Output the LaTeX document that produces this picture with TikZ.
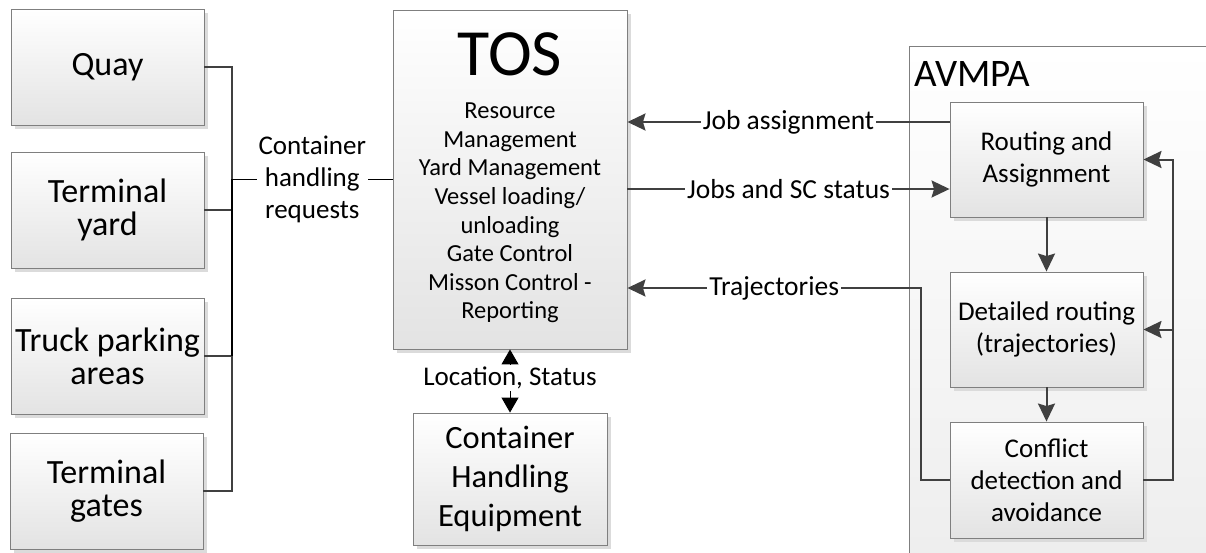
\documentclass[tikz,border=0pt]{standalone}
\usepackage{fontspec}
\setmainfont{Carlito}
\usetikzlibrary{arrows.meta,shadows}
\definecolor{linegray}{HTML}{404040}
\definecolor{boxborder}{HTML}{7F7F7F}
\begin{document}
\begin{tikzpicture}[x=1pt,y=-1pt,
  box/.style={draw=boxborder, line width=0.9pt, top color=white, bottom color=black!11,
    drop shadow={shadow xshift=4pt, shadow yshift=-4pt, fill=black!14, opacity=1},
    align=center, inner sep=0pt, text=black},
  leftbox/.style={box, minimum width=193pt, minimum height=116pt, font=\fontsize{34}{33}\selectfont},
  rightbox/.style={box, minimum width=193pt, minimum height=115pt, font=\fontsize{27}{32}\selectfont},
  lbl/.style={fill=white, inner xsep=2pt, inner ysep=1pt, font=\fontsize{27.5}{32}\selectfont, align=center, text=black},
  arr/.style={draw=linegray, line width=2pt, -{Stealth[length=18pt,width=17pt,inset=2.5pt]}},
  thinline/.style={draw=linegray, line width=1.1pt},
  reqline/.style={draw=black, line width=1.6pt},
  locarr/.style={draw=black, line width=1pt, {Triangle[length=15pt,width=17pt]}-{Triangle[length=15pt,width=17pt]}},
]
\useasboundingbox (0,0) rectangle (1206,552);
\begin{scope}
  \clip (0,0) rectangle (1206,552);
  \node[draw=boxborder, line width=0.9pt, top color=white, bottom color=black!7,
        minimum width=330pt, minimum height=530pt, anchor=north west, inner sep=0pt] (avmpa) at (909,46) {};
\end{scope}
\node[anchor=base west, font=\fontsize{39}{39}\selectfont, inner sep=0pt] (avmpatitle) at (914,86) {AVMPA};

% left boxes
\node[leftbox] (quay) at (107.5,67) {Quay};
\node[leftbox] (yard) at (107.5,210) {Terminal\\yard};
\node[leftbox] (truck) at (107.5,356) {Truck parking\\areas};
\node[leftbox] (gates) at (106.5,491) {Terminal\\gates};

% TOS
\node[box, minimum width=234pt, minimum height=339pt] (tos) at (510,179.5) {};
\node[anchor=base, font=\fontsize{66}{66}\selectfont, inner sep=0pt] (tostitle) at (510,75) {TOS};
\node[font=\fontsize{24.5}{28.6}\selectfont, align=center, inner sep=0pt] (tosbody) at (510,213)
  {Resource\\Management\\Yard Management\\Vessel loading/\\unloading\\Gate Control\\Misson Control -\\Reporting};

% container handling equipment
\node[box, minimum width=194pt, minimum height=132pt, font=\fontsize{32.5}{39}\selectfont] (che) at (510,479)
  {Container\\Handling\\Equipment};

% AVMPA inner boxes
\node[rightbox] (routing) at (1046.5,159.5) {Routing and\\Assignment};
\node[rightbox] (detailed) at (1046.5,329.5) {Detailed routing\\(trajectories)};
\node[rightbox, minimum height=116pt] (conflict) at (1046.5,480) {Conflict\\detection and\\avoidance};

% left bus
\coordinate (bus) at (232,0);
\draw[thinline] (quay.east) -| (bus |- gates.east) -- (gates.east);
\draw[thinline] (yard.east) -- (yard.east -| bus);
\draw[thinline] (truck.east) -- (truck.east -| bus);
\draw[reqline] (tos.west) -- node[lbl, font=\fontsize{27}{32}\selectfont]{Container\\handling\\requests} (tos.west -| bus) -- (truck.east -| bus);

% TOS <-> AVMPA
\coordinate (ja) at ([yshift=37.5pt]routing.west);
\draw[arr] (ja) -- node[lbl]{Job assignment} (ja -| tos.east);
\coordinate (js) at ([yshift=-29.5pt]routing.west);
\draw[arr] (js -| tos.east) -- node[lbl]{Jobs and SC status} (js);
\coordinate (tj) at (921,288);
\draw[arr] (conflict.west) -| (tj) -- node[lbl]{Trajectories} (tj -| tos.east);

% inside AVMPA
\draw[arr] (routing.south) -- (detailed.north);
\draw[arr] (detailed.south) -- (conflict.north);
\coordinate (fb) at ([xshift=30pt]routing.east);
\draw[arr] (conflict.east) -| (fb) -- (routing.east);
\draw[arr] (fb |- detailed.east) -- (detailed.east);

% location, status
\draw[locarr] (tos.south) -- node[lbl, pos=0.45, inner ysep=2pt, font=\fontsize{27}{32}\selectfont]{Location, Status} (che.north);
\end{tikzpicture}
\end{document}
